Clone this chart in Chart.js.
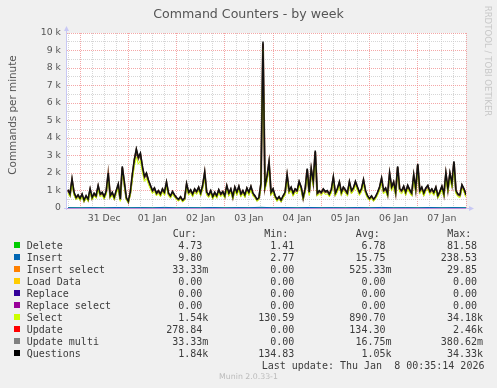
<!DOCTYPE html>
<html>
<head>
<meta charset="utf-8">
<script src="https://cdn.jsdelivr.net/npm/chart.js@4.4.1/dist/chart.umd.min.js"></script>
<style>
  html, body { margin: 0; padding: 0; background: #f0f0f0; }
  #wrap { position: relative; width: 497px; height: 388px; overflow: hidden; font-family: "DejaVu Sans", sans-serif; }
  #chart { position: absolute; left: 0; top: 0; }
  .t { position: absolute; white-space: pre; }
  #title { left: 0; top: 6px; width: 497px; text-align: center; font-size: 12.6px; line-height: 16px; color: #555; }
  #ylab { left: -88px; top: 109px; width: 200px; text-align: center; font-size: 10.4px; line-height: 12px; color: #555; transform: rotate(-90deg); }
  #rrd { left: 388px; top: 56px; width: 200px; text-align: center; font-size: 8.6px; line-height: 10px; color: #c8c8c8; transform: rotate(90deg); }
  .mono { font-family: "DejaVu Sans Mono", monospace; font-size: 10px; line-height: 12px; color: #3c3c3c; }
  .sq { position: absolute; width: 6px; height: 6px; }
  #munin { left: 0; width: 497px; text-align: center; font-size: 7.8px; line-height: 10px; color: #bbb; top: 372px; }
</style>
</head>
<body>
<div id="wrap">
  <canvas id="chart" width="497" height="230"></canvas>
  <div class="t" id="title">Command Counters - by week</div>
  <div class="t" id="ylab">Commands per minute</div>
  <div class="t" id="rrd">RRDTOOL / TOBI OETIKER</div>
  <div id="legend"></div>
  <div class="t" id="munin">Munin 2.0.33-1</div>
</div>
<script>
// hours relative to 31 Dec 00:00, one sample per hour
const START_HOUR = -6;

const questions = [
  1050, 800, 1650, 900, 600, 750,
  550, 800, 450, 700, 500, 1090, 600, 850, 700, 1280, 800, 900, 650, 950, 2000, 700, 900, 600, 1000, 1370, 500, 2380, 1490, 600,
  380, 900, 1900, 2760, 3370, 2900, 3140, 2380, 1800, 2000, 1600, 1300, 1000, 1150, 850, 1000, 800, 1100, 900, 1480, 850, 700, 950, 750,
  600, 500, 650, 450, 550, 1390, 900, 1050, 800, 1100, 950, 1200, 850, 1300, 2050, 900, 750, 1000, 650, 900, 700, 1050, 800, 950,
  700, 1280, 850, 1100, 650, 1200, 900, 1250, 800, 1000, 750, 1150, 900, 1240, 850, 700, 500, 600, 1430, 9520, 1240, 1800, 2630, 900,
  1100, 700, 500, 650, 450, 700, 900, 1900, 1000, 1200, 850, 1100, 1000, 1520, 1200, 600, 1100, 2250, 900, 2250, 1500, 3280, 850, 1000,
  900, 1100, 950, 1000, 800, 1050, 1770, 850, 1100, 1490, 900, 1200, 1050, 850, 1500, 1000, 1150, 1520, 1200, 900, 1100, 1620, 1000, 700,
  550, 700, 500, 650, 900, 1200, 1710, 1000, 1150, 800, 2000, 1200, 1500, 900, 2380, 1100, 1000, 1250, 900, 1300, 1050, 850, 1900, 1100,
  2530, 1000, 1200, 850, 1150, 1300, 950, 1100, 900, 1200, 700, 950, 1250, 800, 2000, 1100, 2000, 1400, 2670, 1000, 800, 750, 1330, 1100,
  760
];

const select = [
  850, 640, 1390, 720, 470, 600,
  430, 640, 340, 560, 380, 890, 470, 680, 560, 1050, 640, 720, 510, 760, 1690, 560, 730, 470, 810, 1130, 380, 2030, 1240, 470,
  290, 730, 1590, 2380, 2910, 2500, 2720, 2040, 1520, 1700, 1350, 1080, 820, 950, 690, 820, 640, 900, 720, 1230, 690, 560, 780, 600,
  470, 390, 510, 350, 430, 1160, 730, 860, 640, 900, 770, 990, 690, 1080, 1740, 720, 600, 810, 510, 720, 560, 850, 640, 770,
  560, 1060, 680, 900, 510, 990, 720, 1030, 640, 810, 600, 950, 720, 1030, 680, 560, 380, 470, 1190, 9100, 1030, 1520, 2270, 720,
  900, 560, 380, 510, 340, 560, 720, 1610, 810, 990, 680, 900, 810, 1280, 990, 470, 900, 1930, 720, 1930, 1260, 2860, 680, 810,
  720, 900, 770, 810, 640, 850, 1500, 680, 900, 1250, 720, 990, 850, 680, 1260, 810, 950, 1280, 990, 720, 900, 1370, 810, 560,
  430, 560, 380, 510, 720, 990, 1450, 810, 950, 640, 1700, 990, 1260, 720, 2040, 900, 810, 1030, 720, 1080, 850, 680, 1610, 900,
  2180, 810, 990, 680, 950, 1080, 770, 900, 720, 990, 560, 770, 1030, 640, 1700, 900, 1700, 1170, 2310, 810, 640, 600, 1110, 900,
  610
];

const update = [
  150, 120, 200, 130, 90, 110,
  80, 120, 70, 100, 80, 150, 90, 130, 100, 180, 120, 140, 100, 150, 250, 100, 130, 90, 150, 180, 80, 280, 200, 90,
  60, 130, 250, 320, 380, 330, 350, 280, 220, 240, 200, 170, 140, 160, 120, 140, 110, 150, 130, 200, 120, 100, 130, 110,
  90, 80, 100, 70, 80, 180, 130, 150, 110, 150, 130, 160, 120, 170, 260, 130, 110, 140, 100, 130, 100, 150, 110, 130,
  100, 170, 120, 150, 100, 160, 130, 170, 110, 140, 110, 150, 130, 160, 120, 100, 80, 90, 180, 300, 160, 220, 300, 130,
  150, 100, 80, 100, 70, 100, 130, 230, 140, 160, 120, 150, 140, 190, 160, 90, 150, 260, 130, 260, 190, 350, 120, 140,
  130, 150, 130, 140, 110, 140, 210, 120, 150, 190, 130, 160, 140, 120, 190, 140, 150, 190, 160, 130, 150, 200, 140, 100,
  80, 100, 80, 100, 130, 160, 210, 140, 150, 110, 240, 160, 190, 130, 280, 150, 140, 170, 130, 170, 140, 120, 230, 150,
  290, 140, 160, 120, 150, 170, 130, 150, 130, 160, 100, 130, 170, 110, 240, 150, 240, 180, 300, 140, 110, 100, 170, 150,
  100
];

// six-hourly samples for the small series
const insert = [18, 12, 25, 10, 30, 15, 22, 14, 35, 12, 20, 16, 28, 11, 24, 18, 40, 15, 26, 13, 30, 17, 22, 12, 27, 14, 33, 16, 21, 12, 29, 15, 24, 14];
const del = [8, 5, 10, 4, 12, 6, 9, 5, 14, 5, 8, 6, 11, 4, 9, 7, 15, 6, 10, 5, 12, 7, 9, 5, 10, 6, 13, 6, 8, 5, 11, 6, 9, 5];

const dayLabels = ['31 Dec', '01 Jan', '02 Jan', '03 Jan', '04 Jan', '05 Jan', '06 Jan', '07 Jan'];

const names = ['Delete', 'Insert', 'Insert select', 'Load Data', 'Replace', 'Replace select', 'Select', 'Update', 'Update multi', 'Questions'];
const colors = ['#00cc00', '#0066b3', '#ff8000', '#ffcc00', '#330099', '#990099', '#ccff00', '#ff0000', '#808080', '#000000'];
const curVals = ['4.73', '9.80', '33.33m', '0.00', '0.00', '0.00', '1.54k', '278.84', '33.33m', '1.84k'];
const minVals = ['1.41', '2.77', '0.00', '0.00', '0.00', '0.00', '130.59', '0.00', '0.00', '134.83'];
const avgVals = ['6.78', '15.75', '525.33m', '0.00', '0.00', '0.00', '890.70', '134.30', '16.75m', '1.05k'];
const maxVals = ['81.58', '238.53', '29.85', '0.00', '0.00', '0.00', '34.18k', '2.46k', '380.62m', '34.33k'];

const hourly = arr => arr.map((v, i) => ({x: START_HOUR + i, y: v}));
const sixHourly = arr => arr.map((v, i) => ({x: START_HOUR + 6 * i, y: v}));

const RED = 'rgba(240,130,130,0.7)';
const GRAY = 'rgba(200,200,200,0.75)';
const AXIS = '#c8c8f4';

const frame = {
  id: 'frame',
  beforeDraw(chart) {
    const {ctx, chartArea: a} = chart;
    ctx.save();
    ctx.fillStyle = '#fff';
    ctx.fillRect(a.left, a.top, a.right - a.left, a.bottom - a.top);
    ctx.restore();
  },
  afterDatasetsDraw(chart) {
    const {ctx, chartArea: a} = chart;
    ctx.save();
    ctx.lineWidth = 1;
    ctx.strokeStyle = AXIS;
    ctx.fillStyle = AXIS;
    // y axis + arrow
    ctx.beginPath();
    ctx.moveTo(a.left - 0.5, a.bottom + 2);
    ctx.lineTo(a.left - 0.5, a.top - 3);
    ctx.stroke();
    ctx.beginPath();
    ctx.moveTo(a.left - 3, a.top - 2);
    ctx.lineTo(a.left - 0.5, a.top - 7);
    ctx.lineTo(a.left + 2, a.top - 2);
    ctx.fill();
    // x axis + arrow
    ctx.beginPath();
    ctx.moveTo(a.left - 3, a.bottom + 0.5);
    ctx.lineTo(a.right + 4, a.bottom + 0.5);
    ctx.stroke();
    ctx.beginPath();
    ctx.moveTo(a.right + 3, a.bottom - 2);
    ctx.lineTo(a.right + 8, a.bottom + 0.5);
    ctx.lineTo(a.right + 3, a.bottom + 3);
    ctx.fill();
    ctx.strokeStyle = '#b98ad8';
    ctx.beginPath();
    ctx.moveTo(a.left, a.bottom + 0.5);
    ctx.lineTo(a.right, a.bottom + 0.5);
    ctx.stroke();
    ctx.restore();
  }
};

const line = (label, data, color, stack, order, width) => ({
  label, data, stack, order,
  borderColor: color, borderWidth: width, pointRadius: 0, tension: 0, fill: false
});

new Chart(document.getElementById('chart').getContext('2d'), {
  type: 'line',
  data: {
    datasets: [
      line('Questions', hourly(questions), '#111111', 'q', 0, 1.5),
      line('Select', hourly(select), '#ccff00', 'su', 1, 1),
      line('Update', hourly(update), '#7a4a30', 'su', 2, 2),
      line('Insert', sixHourly(insert), '#0066b3', 'ins', 3, 1),
      line('Delete', sixHourly(del), '#00cc00', 'del', 4, 1)
    ]
  },
  options: {
    responsive: false,
    animation: false,
    layout: {padding: {top: 33, right: 31, bottom: 2, left: 0}},
    plugins: {legend: {display: false}, tooltip: {enabled: false}, title: {display: false}},
    scales: {
      x: {
        type: 'linear',
        min: -6.5,
        max: 192,
        afterFit: s => { s.height = 20; },
        border: {display: false, dash: [1, 1]},
        grid: {
          drawTicks: false,
          color: c => (c.tick && c.tick.value % 24 === 0) ? RED : GRAY
        },
        ticks: {
          stepSize: 6,
          includeBounds: false,
          autoSkip: false,
          maxRotation: 0,
          padding: 5,
          color: '#555',
          font: {family: 'DejaVu Sans', size: 9.3},
          callback: v => (v % 24 === 12) ? dayLabels[(v - 12) / 24] : ''
        }
      },
      y: {
        stacked: true,
        min: 0,
        max: 10000,
        afterFit: s => { s.width = 67; },
        border: {display: false, dash: [1, 1]},
        grid: {
          drawTicks: false,
          color: c => (c.tick && c.tick.value % 1000 === 0) ? RED : GRAY
        },
        ticks: {
          stepSize: 500,
          autoSkip: false,
          padding: 6,
          color: '#555',
          font: {family: 'DejaVu Sans', size: 9.3},
          callback: v => (v % 1000 === 0) ? (v === 0 ? '0' : (v / 1000) + ' k') : ''
        }
      }
    }
  },
  plugins: [frame]
});

// legend table under the graph
const legend = document.getElementById('legend');
const put = (text, x, y, align) => {
  const d = document.createElement('div');
  d.className = 't mono';
  d.textContent = text;
  if (align === 'right') {
    d.style.left = (x - 120) + 'px';
    d.style.width = '120px';
    d.style.textAlign = 'right';
  } else {
    d.style.left = x + 'px';
  }
  d.style.top = (y - 6) + 'px';
  legend.appendChild(d);
};
const fmt = s => /[0-9]$/.test(s) ? s + ' ' : s;

put('Cur:', 172.7, 234.3);
put('Min:', 264.3, 234.3);
put('Avg:', 355.7, 234.3);
put('Max:', 447.3, 234.3);
names.forEach((n, i) => {
  const y = 245.7 + i * 12;
  const sq = document.createElement('div');
  sq.className = 'sq';
  sq.style.left = '14px';
  sq.style.top = (y - 3.3) + 'px';
  sq.style.background = colors[i];
  legend.appendChild(sq);
  put(n, 26.7, y);
  put(fmt(curVals[i]), 208.3, y, 'right');
  put(fmt(minVals[i]), 300.3, y, 'right');
  put(fmt(avgVals[i]), 391.5, y, 'right');
  put(fmt(maxVals[i]), 483, y, 'right');
});
put('Last update: Thu Jan  8 00:35:14 2026', 261.7, 365.7);
</script>
</body>
</html>
